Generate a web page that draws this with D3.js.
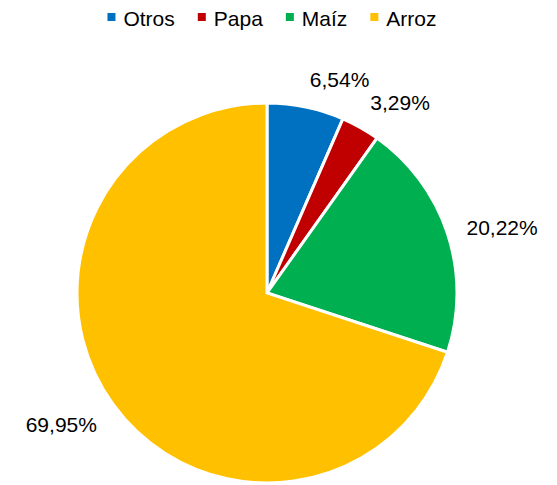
<!DOCTYPE html>
<html lang="es">
<head>
  <meta charset="UTF-8">
  <title>Participación por cultivo</title>
  <style>
    html,
    body {
      margin: 0;
      padding: 0;
      background: #fff;
    }

    svg text {
      font-family: "Liberation Sans", Arial, sans-serif;
      font-size: 21px;
      fill: #000;
    }
  </style>
</head>
<body>
<div id="chart"></div>

<script src="https://cdn.jsdelivr.net/npm/d3@7"></script>
<script>
  // data
  const categories = ['Otros', 'Papa', 'Maíz', 'Arroz'];
  const shares = [6.54, 3.29, 20.22, 69.95];
  const colors = ['#0070C0', '#C00000', '#00B050', '#FFC000'];

  const width = 557;
  const height = 485;
  const cx = 267;
  const cy = 293;
  const radius = 190;

  const data = categories.map((name, i) => ({ name, value: shares[i] }));

  const color = d3.scaleOrdinal()
    .domain(categories)
    .range(colors);

  const fmt = v => d3.format('.2f')(v).replace('.', ',') + '%';

  const svg = d3.select('#chart')
    .append('svg')
    .attr('width', width)
    .attr('height', height);

  // legend, centered over the pie
  const legend = svg.append('g');
  const items = legend.selectAll('g')
    .data(categories)
    .join('g');

  items.append('rect')
    .attr('width', 8)
    .attr('height', 8)
    .attr('y', 13)
    .attr('fill', d => color(d));

  items.append('text')
    .attr('x', 16)
    .attr('y', 26)
    .text(d => d);

  let offset = 0;
  items.each(function() {
    const w = 16 + d3.select(this).select('text').node().getComputedTextLength();
    d3.select(this).attr('transform', `translate(${offset},0)`);
    offset += w + 23;
  });
  const legendWidth = offset - 23;
  legend.attr('transform', `translate(${272 - legendWidth / 2},0)`);

  // pie, clockwise from 12 o'clock
  const pie = d3.pie()
    .sort(null)
    .value(d => d.value);

  const arcs = pie(data);

  const arc = d3.arc()
    .innerRadius(0)
    .outerRadius(radius);

  const g = svg.append('g')
    .attr('transform', `translate(${cx},${cy})`);

  g.selectAll('path')
    .data(arcs)
    .join('path')
    .attr('d', arc)
    .attr('fill', d => color(d.data.name))
    .attr('stroke', '#fff')
    .attr('stroke-width', 3)
    .attr('stroke-linejoin', 'miter');

  // labels outside the end: the box corner nearest the pie sits on the mid-angle ray
  const labelDist = radius + 20;
  const capBox = 16;
  const labels = g.selectAll('text.label')
    .data(arcs)
    .join('text')
    .attr('class', 'label')
    .attr('text-anchor', 'middle')
    .text(d => fmt(d.data.value));

  labels.each(function(d) {
    const w = this.getComputedTextLength();
    const a = (d.startAngle + d.endAngle) / 2;
    const s = Math.sin(a);
    const c = Math.cos(a);
    const fx = Math.abs(s) > 0.1 ? Math.sign(s) : 0;
    const fy = Math.abs(c) > 0.4 ? Math.sign(c) : 0;
    const x = labelDist * s + fx * w / 2;
    const yMid = -labelDist * c - fy * capBox / 2;
    d3.select(this)
      .attr('x', x)
      .attr('y', yMid + capBox / 2);
  });
</script>
</body>
</html>
